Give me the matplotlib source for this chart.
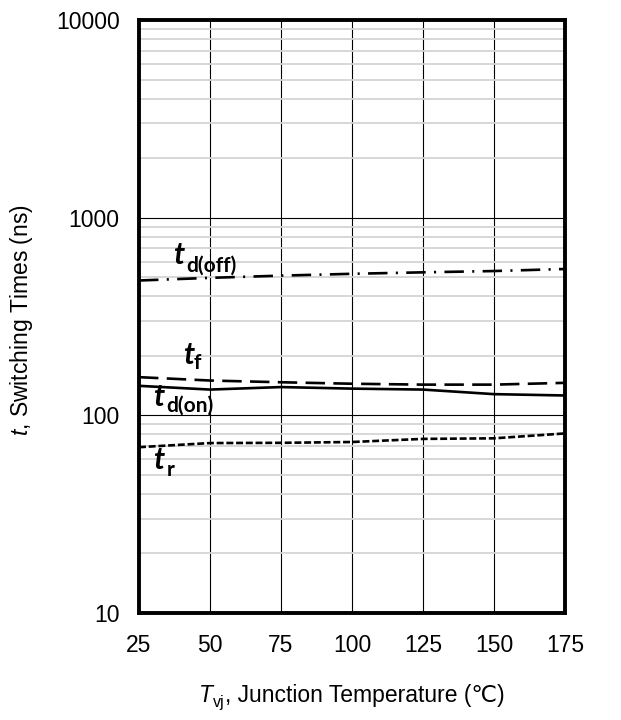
import matplotlib
matplotlib.use("Agg")
import matplotlib.pyplot as plt
from matplotlib.ticker import FixedLocator, NullFormatter

plt.rcParams['font.family'] = ['Liberation Sans', 'DejaVu Sans']
plt.rcParams['mathtext.fontset'] = 'custom'
plt.rcParams['mathtext.rm'] = 'Liberation Sans'
plt.rcParams['mathtext.it'] = 'Liberation Sans:italic'
plt.rcParams['lines.scale_dashes'] = False

# Junction temperature (degC)
temperature = [25, 50, 75, 100, 125, 150, 175]

# Switching times (ns)
td_off = [481, 496, 509, 520, 529, 537, 550]
t_f = [156, 150, 147, 144.5, 143, 143, 146]
td_on = [141, 135, 139, 136.5, 135, 128, 126]
t_r = [69, 72.4, 72.6, 73.3, 76, 76.5, 81]

x_ticks = [25, 50, 75, 100, 125, 150, 175]
y_ticks = [10, 100, 1000, 10000]

W, H = 621, 720
fig = plt.figure(figsize=(W / 100, H / 100), dpi=100)
ax = fig.add_axes([139 / W, 1 - 613 / H, 426 / W, 593 / H])
ax.set_yscale('log')
ax.set_xlim(25, 175)
ax.set_ylim(10, 10000)

# grid: light minor lines, thin black major lines
minor = [m * 10 ** e for e in range(1, 4) for m in range(2, 10)]
ax.yaxis.set_minor_locator(FixedLocator(minor))
ax.yaxis.set_minor_formatter(NullFormatter())
ax.yaxis.set_major_locator(FixedLocator(y_ticks))
ax.set_yticklabels([str(v) for v in y_ticks])
ax.set_xticks(x_ticks)
ax.set_xticklabels([str(v) for v in x_ticks])
ax.grid(True, which='minor', axis='y', color='#d4d4d4', linewidth=1.3, zorder=0)
ax.grid(True, which='major', axis='both', color='black', linewidth=0.8, zorder=1)
ax.tick_params(which='both', length=0, labelsize=16.5)
ax.tick_params(axis='y', pad=14)
ax.tick_params(axis='x', pad=15)
for s in ax.spines.values():
    s.set_linewidth(2.8)
    s.set_zorder(5)

lw = 1.9
ax.plot(temperature, td_off, color='black', lw=lw, ls=(0, (14, 6, 1.5, 6)), zorder=3)
ax.plot(temperature, t_f, color='black', lw=lw, ls=(0, (14, 6)), zorder=3)
ax.plot(temperature, td_on, color='black', lw=lw, ls='-', zorder=3)
ax.plot(temperature, t_r, color='black', lw=lw, ls=(0, (5, 2)), zorder=3)

# curve labels: italic "t" with bold subscript
label_font = ['Lato', 'DejaVu Sans']
curve_labels = [
    ('d(off)', (37.0, 581), (41.5, 536)),
    ('f', (40.6, 182), (44.2, 171)),
    ('d(on)', (30.0, 111.7), (34.6, 104.2)),
    ('r', (30.0, 53.7), (34.6, 49.5)),
]
for sub, (tx, ty), (sx, sy) in curve_labels:
    ax.text(tx, ty, 't', fontsize=22, fontweight='bold', fontstyle='italic',
            family=label_font, ha='left', va='baseline', zorder=4)
    ax.text(sx, sy, sub, fontsize=15, fontweight='bold',
            family=label_font, ha='left', va='baseline', zorder=4)

fig.text(22 / W, 1 - 320 / H, r'$\it{t}$, Switching Times (ns)',
         rotation=90, ha='center', va='center', fontsize=16.5)

# x-axis title built from pieces: italic T, subscript vj, plain remainder
base_y = 1 - 702 / H
fs = 16.5
p1 = fig.text(0, base_y, 'T', fontsize=fs, fontstyle='italic', va='baseline')
p2 = fig.text(0, base_y - 5 / H, 'vj', fontsize=fs * 0.7, va='baseline')
p3 = fig.text(0, base_y, ', Junction Temperature (\u2103)', fontsize=fs, va='baseline')
fig.canvas.draw()
r = fig.canvas.get_renderer()
w1 = p1.get_window_extent(r).width
w2 = p2.get_window_extent(r).width
w3 = p3.get_window_extent(r).width
x0 = 352 - (w1 + w2 + w3) / 2
p1.set_x(x0 / W)
p2.set_x((x0 + w1) / W)
p3.set_x((x0 + w1 + w2) / W)

fig.savefig('out.png', dpi=100)
